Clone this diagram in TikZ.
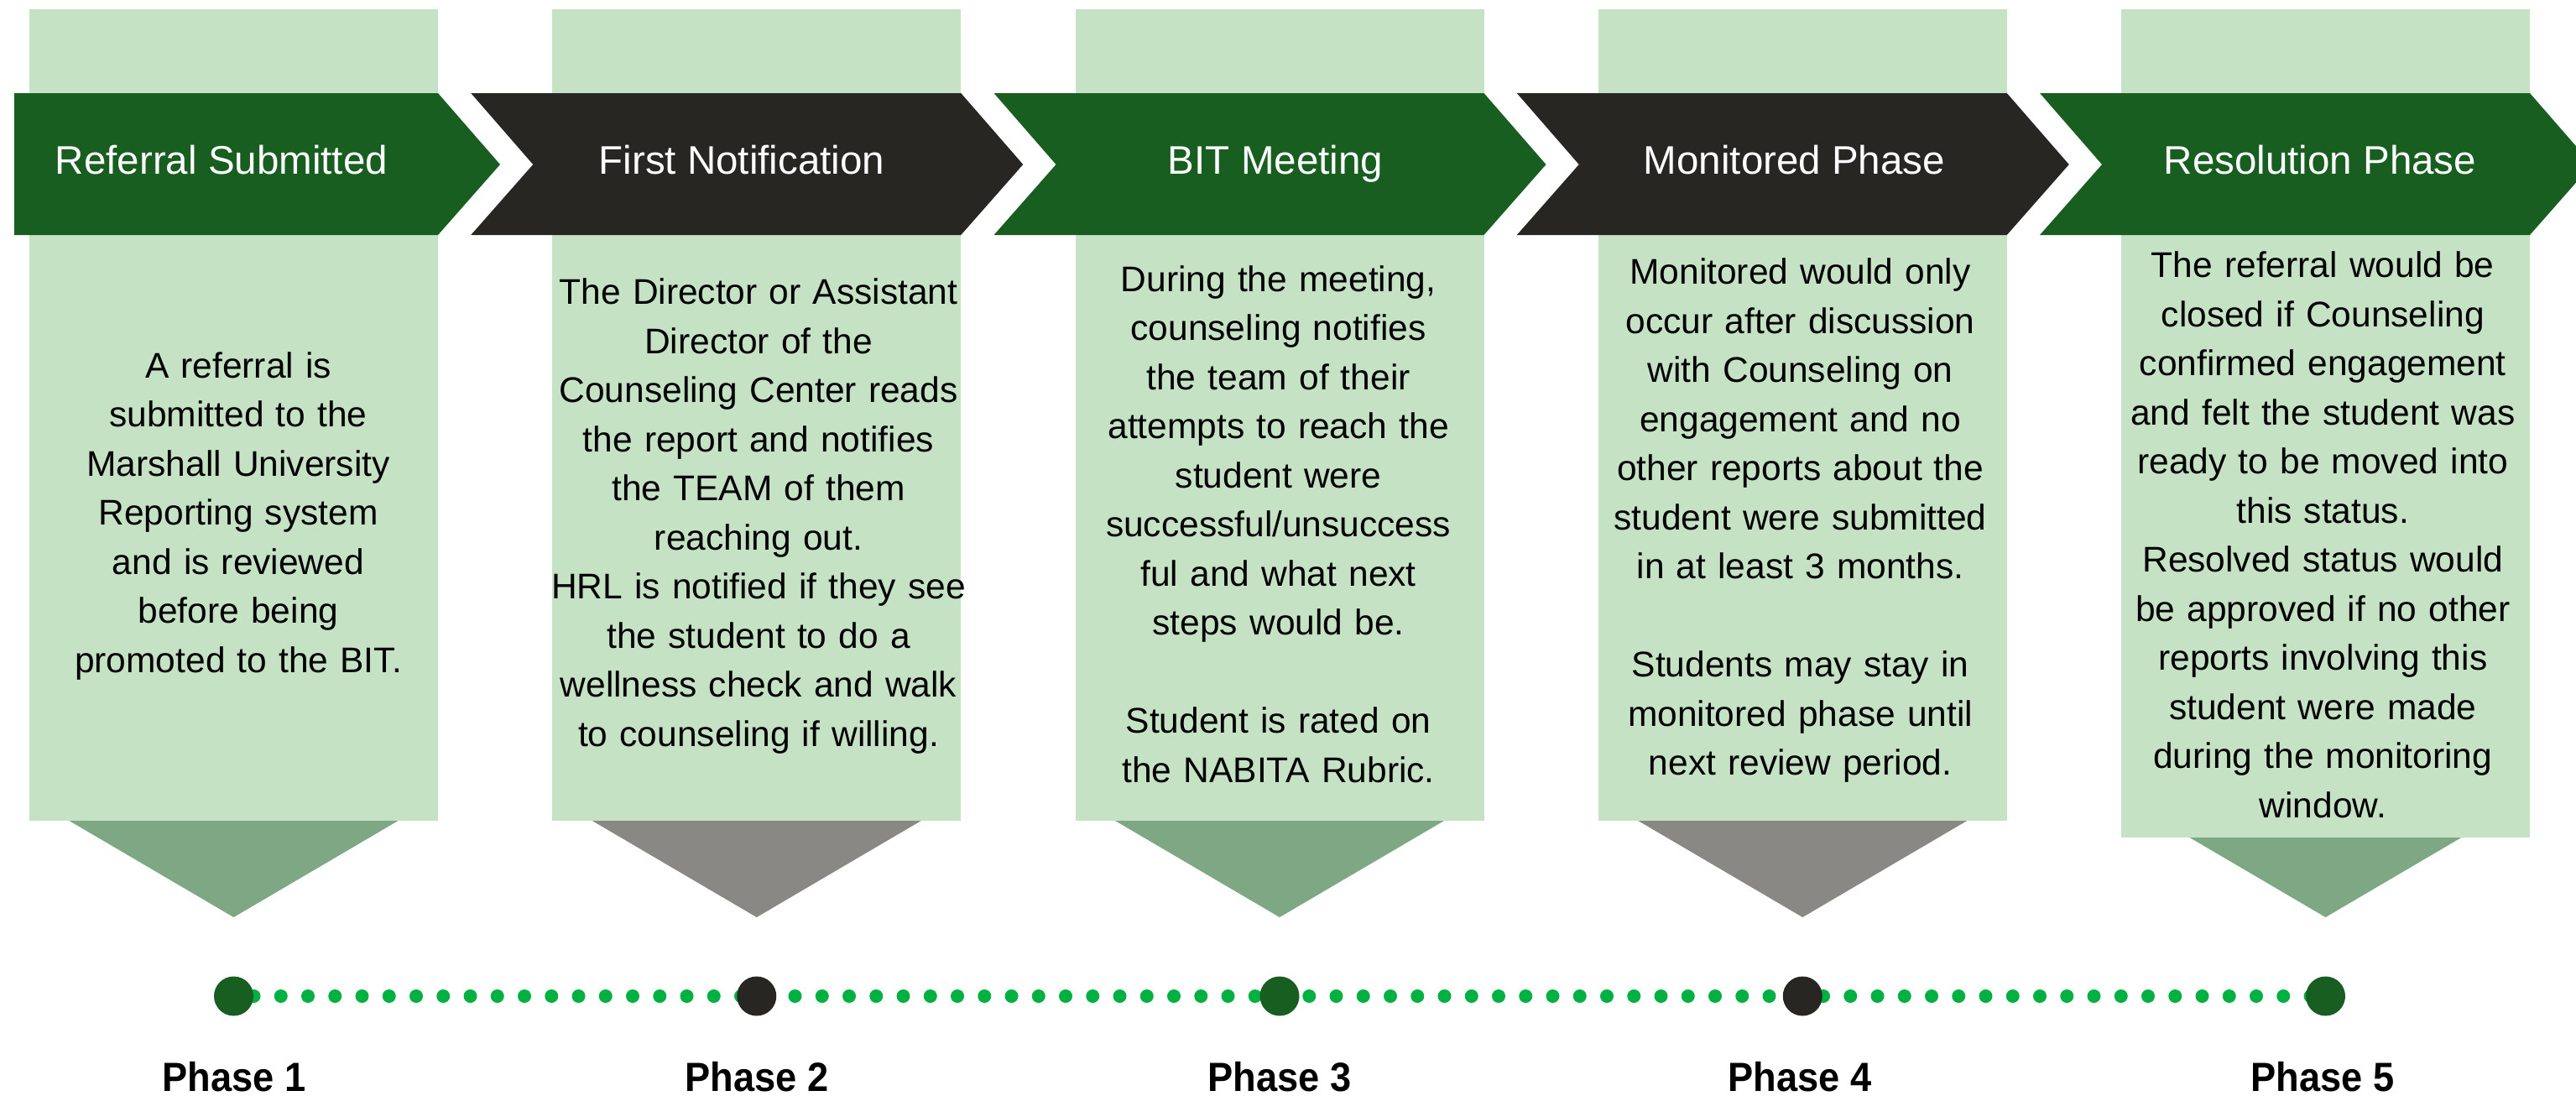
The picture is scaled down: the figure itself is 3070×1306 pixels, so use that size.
\documentclass[tikz,border=0pt]{standalone}
\usepackage{fontspec}
\usepackage{graphicx}
\setmainfont{Liberation Sans}
\definecolor{panelg}{HTML}{C5E2C5}
\definecolor{darkg}{HTML}{185E20}
\definecolor{darkk}{HTML}{272622}
\definecolor{trig}{HTML}{7EA784}
\definecolor{trik}{HTML}{8A8884}
\definecolor{dotg}{HTML}{00B040}
\newcommand{\phasetxt}[1]{\scalebox{0.93}[1]{#1}}
\begin{document}
\begin{tikzpicture}[x=0.5pt,y=-0.5pt,
  panel/.style={fill=panelg,draw=none},
  chevg/.style={fill=darkg,draw=none},
  chevk/.style={fill=darkk,draw=none},
  trigreen/.style={fill=trig,draw=none},
  trigray/.style={fill=trik,draw=none},
  hdr/.style={anchor=base,inner sep=0pt,text=white,font=\fontsize{23.75pt}{28pt}\selectfont},
  bodytxt/.style={anchor=base,inner sep=0pt,text width=300pt,align=center,font=\fontsize{21.25pt}{29.25pt}\selectfont},
  phase/.style={anchor=base,inner sep=0pt,font=\fontsize{24.3pt}{28pt}\selectfont\bfseries},
  bigdotg/.style={circle,fill=darkg,minimum size=23.5pt,inner sep=0pt,draw=none},
  bigdotk/.style={circle,fill=darkk,minimum size=23.5pt,inner sep=0pt,draw=none},
  dotline/.style={draw=dotg,line width=8pt,line cap=round,dash pattern=on 0pt off 16.125pt,dash phase=4.125pt}
]
\useasboundingbox (0,0) rectangle (3070,1306);
\clip (0,0) rectangle (3070,1306);

% triangles (behind panels)
\path[trigreen] (82.5,978) -- (474.5,978) -- (278.5,1093) -- cycle;
\path[trigray]  (705.75,978) -- (1097.75,978) -- (901.75,1093) -- cycle;
\path[trigreen] (1329,978) -- (1721,978) -- (1525,1093) -- cycle;
\path[trigray]  (1952.25,978) -- (2344.25,978) -- (2148.25,1093) -- cycle;
\path[trigreen] (2575.5,978) -- (2967.5,978) -- (2771.5,1093) -- cycle;

% panels
\path[panel] (35,11) rectangle (522,978);
\path[panel] (658.25,11) rectangle (1145.25,978);
\path[panel] (1281.5,11) rectangle (1768.5,978);
\path[panel] (1904.75,11) rectangle (2391.75,978);
\path[panel] (2528,11) rectangle (3015,998);

% chevrons
\path[chevg] (17,111) -- (522,111) -- (596,196) -- (522,280) -- (17,280) -- cycle;
\path[chevk] (561.25,111) -- (1145.25,111) -- (1219.25,196) -- (1145.25,280) -- (561.25,280) -- (635.25,196) -- cycle;
\path[chevg] (1184.5,111) -- (1768.5,111) -- (1842.5,196) -- (1768.5,280) -- (1184.5,280) -- (1258.5,196) -- cycle;
\path[chevk] (1807.75,111) -- (2391.75,111) -- (2465.75,196) -- (2391.75,280) -- (1807.75,280) -- (1881.75,196) -- cycle;
\path[chevg] (2431,111) -- (3015,111) -- (3089,196) -- (3015,280) -- (2431,280) -- (2505,196) -- cycle;

% headers
\node[hdr] (h1) at (264,207) {Referral Submitted};
\node[hdr] (h2) at (884,207) {First Notification};
\node[hdr] (h3) at (1520,207) {BIT Meeting};
\node[hdr] (h4) at (2138.5,207) {Monitored Phase};
\node[hdr] (h5) at (2765,207) {Resolution Phase};

% body texts
\node[bodytxt] (b1) at (284,450) {A referral is\\submitted to the\\Marshall University\\Reporting system\\and is reviewed\\before being\\promoted to the BIT.};
\node[bodytxt] (b2) at (904,362.6) {The Director or Assistant\\Director of the\\Counseling Center reads\\the report and notifies\\the TEAM of them\\reaching out.\\HRL is notified if they see\\the student to do a\\wellness check and walk\\to counseling if willing.};
\node[bodytxt] (b3) at (1523.6,347) {During the meeting,\\counseling notifies\\the team of their\\attempts to reach the\\student were\\successful/unsuccess\\ful and what next\\steps would be.\\[29.25pt]Student is rated on\\the NABITA Rubric.};
\node[bodytxt] (b4) at (2145.6,338.5) {Monitored would only\\occur after discussion\\with Counseling on\\engagement and no\\other reports about the\\student were submitted\\in at least 3 months.\\[29.25pt]Students may stay in\\monitored phase until\\next review period.};
\node[bodytxt] (b5) at (2768.3,330.7) {The referral would be\\closed if Counseling\\confirmed engagement\\and felt the student was\\ready to be moved into\\this status.\\Resolved status would\\be approved if no other\\reports involving this\\student were made\\during the monitoring\\window.};

% timeline
\coordinate (p1) at (278.5,1187);
\coordinate (p2) at (901.75,1187);
\coordinate (p3) at (1525,1187);
\coordinate (p4) at (2148.25,1187);
\coordinate (p5) at (2771.5,1187);
\draw[dotline] (p1) -- (p5);
\node[bigdotg] (d1) at (p1) {};
\node[bigdotk] (d2) at (p2) {};
\node[bigdotg] (d3) at (p3) {};
\node[bigdotk] (d4) at (p4) {};
\node[bigdotg] (d5) at (p5) {};

% phase labels
\node[phase] (ph1) at (279,1300) {\phasetxt{Phase 1}};
\node[phase] (ph2) at (902,1300) {\phasetxt{Phase 2}};
\node[phase] (ph3) at (1525,1300) {\phasetxt{Phase 3}};
\node[phase] (ph4) at (2145,1300) {\phasetxt{Phase 4}};
\node[phase] (ph5) at (2768,1300) {\phasetxt{Phase 5}};
\end{tikzpicture}
\end{document}
